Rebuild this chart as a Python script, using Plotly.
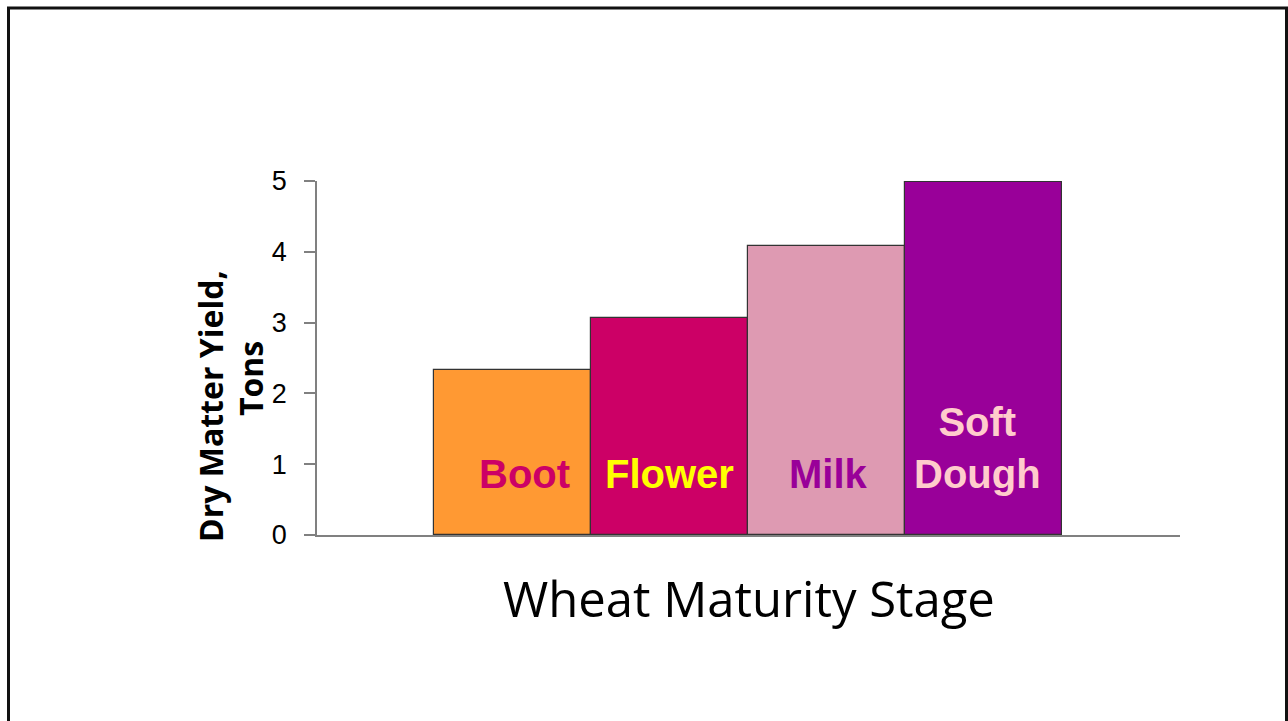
import plotly.graph_objects as go

# ---- data ----
stages = ["Boot", "Flower", "Milk", "Soft Dough"]
yield_tons = [2.33, 3.06, 4.08, 4.98]
bar_labels = ["Boot", "Flower", "Milk", "Soft<br>Dough"]
bar_colors = ["#FF9933", "#CC0066", "#DE9AB2", "#990099"]
label_colors = ["#CC0066", "#FFFF00", "#990099", "#FFCCCC"]
y_ticks = [0, 1, 2, 3, 4, 5]

x_title = "Wheat Maturity Stage"
y_title_lines = ["Dry Matter Yield,", "Tons"]

# ---- style ----
label_xshift = [12, 0, 2, -6]
W, H = 1288, 721
L, R, T, B = 317, 108, 181, 186
pw, ph = W - L - R, H - T - B

def px_x(px):
    return (px - L) / pw

def px_y(py):
    return (H - B - py) / ph

fig = go.Figure()
fig.add_trace(go.Bar(
    x=stages, y=yield_tons,
    marker=dict(color=bar_colors, line=dict(color="#333333", width=1.2)),
    width=1.0, showlegend=False, hoverinfo="x+y",
))

ann = []
for i, (s, lab) in enumerate(zip(stages, bar_labels)):
    ann.append(dict(
        x=s, y=0.52, xref="x", yref="y", text="<b>" + lab + "</b>", showarrow=False,
        xanchor="center", yanchor="bottom", xshift=label_xshift[i],
        font=dict(family="Liberation Sans, Arial", size=40, color=label_colors[i]),
        align="center",
    ))

title_font = "Comic Sans MS, Open Sans, sans-serif"
ann.append(dict(x=px_x(210), y=px_y(406), xref="paper", yref="paper",
                text="<b>" + y_title_lines[0] + "</b>", textangle=-90, showarrow=False,
                xanchor="center", yanchor="middle",
                font=dict(family=title_font, size=32, color="black")))
ann.append(dict(x=px_x(250), y=px_y(379), xref="paper", yref="paper",
                text="<b>" + y_title_lines[1] + "</b>", textangle=-90, showarrow=False,
                xanchor="center", yanchor="middle",
                font=dict(family=title_font, size=32, color="black")))
ann.append(dict(x=0.5, y=px_y(598), xref="paper", yref="paper",
                text=x_title, showarrow=False, xanchor="center", yanchor="middle",
                font=dict(family=title_font, size=49, color="black")))

fig.update_layout(
    width=W, height=H,
    margin=dict(l=L, r=R, t=T, b=B, pad=0),
    paper_bgcolor="white", plot_bgcolor="white",
    bargap=0,
    annotations=ann,
    shapes=[dict(type="rect", xref="paper", yref="paper",
                 x0=px_x(8.5), x1=px_x(1286.5), y0=px_y(740), y1=px_y(8),
                 line=dict(color="#111111", width=3), fillcolor="rgba(0,0,0,0)", layer="below")],
    xaxis=dict(range=[-1.245, 4.255], showticklabels=False, ticks="", showgrid=False,
               zeroline=False, showline=True, linecolor="#808080", linewidth=2),
    yaxis=dict(range=[0, 5], tickvals=y_ticks, ticks="outside", ticklen=11, tickcolor="#808080",
               tickwidth=1.5, showgrid=False, zeroline=False, showline=True,
               linecolor="#808080", linewidth=1.5, ticklabelstandoff=12,
               tickfont=dict(family="Liberation Sans, Arial", size=27, color="black")),
)

fig.write_html("out.html", config={"displayModeBar": False},
               post_script="document.body.style.margin='0';document.body.style.overflow='hidden';")
